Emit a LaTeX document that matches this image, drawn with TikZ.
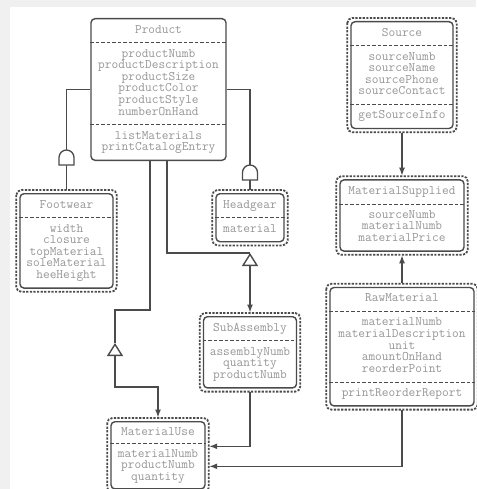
\documentclass[tikz,border=0pt]{standalone}
\usepackage{tikz}
\usetikzlibrary{arrows.meta,positioning,shapes.multipart}
\definecolor{inkgray}{RGB}{75,75,75}
\definecolor{labelgray}{RGB}{150,150,150}
\definecolor{papergray}{RGB}{240,240,240}

\begin{document}
\begin{tikzpicture}[x=1pt, y=1pt, node distance=35pt,
  every node/.style={font=\fontsize{13}{11.6}\selectfont\ttfamily, text=labelgray},
  classbox/.style={draw=inkgray, line width=1.4pt, rounded corners=4pt, fill=white, rectangle split, rectangle split draw splits=false, align=center, inner xsep=3pt, inner ysep=5.5pt, anchor=north},
  entityframe/.style={draw=inkgray, line width=1.8pt, dash pattern=on 2.2pt off 1.4pt, rounded corners=5pt},
  sep/.style={draw=inkgray, line width=0.8pt, dash pattern=on 3.5pt off 2pt},
  conn/.style={draw=inkgray, line width=1.4pt},
  tip/.style={-{Latex[length=8pt,width=6pt]}},
  joint/.pic={\draw[inkgray, line width=1.3pt, fill=white] (-7.5,-7.5) -- (-7.5,0) arc (180:0:7.5) -- (7.5,-7.5) -- cycle;}]
\useasboundingbox (0,0) rectangle (476,-489);
\fill[papergray] (0,0) rectangle (476,-489);
\fill[white] (10,-7) rectangle (476,-489);

% classes
\node[classbox, rectangle split parts=3, minimum width=135pt, minimum height=146pt] (product) at (158.5,-18)
  {\strut Product\nodepart{two}\strut productNumb\\productDescription\\productSize\\productColor\\productStyle\\numberOnHand\strut\nodepart{three}\strut listMaterials\\printCatalogEntry\strut};
\node[classbox, rectangle split parts=2, minimum width=93pt, minimum height=94pt] (footwear) at (66.5,-193)
  {\strut Footwear\nodepart{two}\strut width\\closure\\topMaterial\\soleMaterial\\heeHeight\strut};
\node[classbox, rectangle split parts=2, minimum width=68pt] (headgear) at (250,-193)
  {\strut Headgear\nodepart{two}\strut material};
\node[classbox, rectangle split parts=2, minimum width=93pt] (subassembly) at (250,-316)
  {\strut SubAssembly\nodepart{two}\strut assemblyNumb\\quantity\\productNumb\strut};
\node[classbox, rectangle split parts=2, minimum width=94pt, inner ysep=4.5pt] (materialuse) at (158,-421)
  {\strut MaterialUse\nodepart{two}\strut materialNumb\\productNumb\\quantity\strut};
\node[classbox, rectangle split parts=3, minimum width=102pt] (source) at (402,-21)
  {\strut Source\nodepart{two}\strut sourceNumb\\sourceName\\sourcePhone\\sourceContact\strut\nodepart{three}\strut getSourceInfo};
\node[classbox, rectangle split parts=2, minimum width=124pt, below=50pt of source] (materialsupplied)
  {\strut MaterialSupplied\nodepart{two}\strut sourceNumb\\materialNumb\\materialPrice\strut};
\node[classbox, rectangle split parts=3, minimum width=144pt, minimum height=118pt, below=of materialsupplied] (rawmaterial)
  {\strut RawMaterial\nodepart{two}\strut materialNumb\\materialDescription\\unit\\amountOnHand\\reorderPoint\strut\nodepart{three}\strut printReorderReport};

% dashed separators
\draw[sep] (product.text split west) -- (product.text split east);
\draw[sep] (product.two split west) -- (product.two split east);
\draw[sep] (footwear.text split west) -- (footwear.text split east);
\draw[sep] (headgear.text split west) -- (headgear.text split east);
\draw[sep] (subassembly.text split west) -- (subassembly.text split east);
\draw[sep] (materialuse.text split west) -- (materialuse.text split east);
\draw[sep] (source.text split west) -- (source.text split east);
\draw[sep] (source.two split west) -- (source.two split east);
\draw[sep] (materialsupplied.text split west) -- (materialsupplied.text split east);
\draw[sep] (rawmaterial.text split west) -- (rawmaterial.text split east);
\draw[sep] (rawmaterial.two split west) -- (rawmaterial.two split east);

% outer frames
\foreach \cls in {footwear,headgear,subassembly,materialuse,source,materialsupplied,rawmaterial}
  \draw[entityframe] ([shift={(-3pt,3pt)}]\cls.north west) rectangle ([shift={(3pt,-3pt)}]\cls.south east);

% connectors
\coordinate (gensub) at (250,-253);
\coordinate (genuse) at (115,-343);
\draw[conn, shorten >=3.5pt] (product.west) -| (footwear.north);
\draw[conn, shorten >=3.5pt] (product.east) -| (headgear.north);
\draw[conn] ([xshift=8.5pt]product.south) |- (gensub);
\draw[conn, {Latex[length=8pt,width=6pt]}-{Triangle[open,length=13pt,width=16pt]}, shorten <=3.5pt] (subassembly.north) -- (gensub);
\draw[conn] ([xshift=-8.5pt]product.south) -- ++(0,-149) -| (genuse);
\draw[conn, {Latex[length=8pt,width=6pt]}-{Triangle[open,length=13pt,width=16pt]}, shorten <=3.5pt] (materialuse.north) -- ++(0,34) -| (genuse);
\draw[conn, tip, shorten <=3.5pt, shorten >=3.5pt] (subassembly.south) |- ([yshift=9pt]materialuse.east);
\draw[conn, tip, shorten <=3.5pt, shorten >=3.5pt] (rawmaterial.south) |- ([yshift=-11pt]materialuse.east);
\draw[conn, tip, shorten <=3.5pt, shorten >=3.5pt] (source) -- (materialsupplied);
\draw[conn, tip, shorten <=3.5pt, shorten >=3.5pt] (rawmaterial) -- (materialsupplied);
\pic at (66.5,-157.5) {joint};
\pic at (250,-172.5) {joint};
\end{tikzpicture}
\end{document}
